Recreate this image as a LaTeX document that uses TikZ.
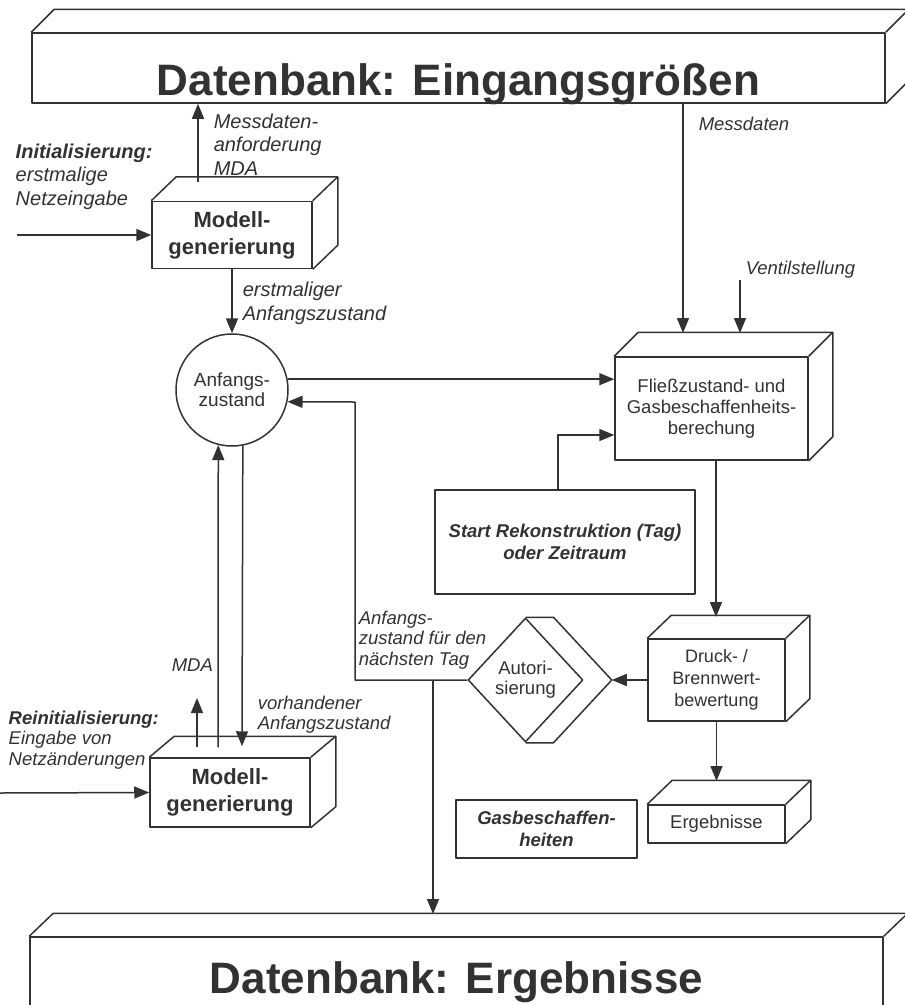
\documentclass[tikz,border=0pt]{standalone}
\usepackage{fontspec}
\setmainfont{Liberation Sans}
\usetikzlibrary{arrows.meta,shapes.geometric}
\definecolor{ink}{RGB}{50,50,50}
% Seitenflaechen eines Quaders an einen Knoten anhaengen
\newcommand{\quader}[3]{%
  \draw (#1.north west) -- ++(#2,#3) -- ([shift={(#2,#3)}]#1.north east)
    -- ([shift={(#2,#3)}]#1.south east) -- (#1.south east);
  \draw (#1.north east) -- ++(#2,#3);}

\begin{document}
\begin{tikzpicture}[x=1pt, y=-1pt, color=ink, line width=1.5pt, line join=round,
    >={Triangle[length=15pt,width=12pt]},
    box/.style={draw, rectangle, inner sep=0pt, align=center},
    txtnormal/.style={font=\fontsize{18.5}{21}\selectfont},
    bolditalic/.style={font=\fontsize{18.5}{22.5}\selectfont\bfseries\itshape},
    modell/.style={box, minimum width=160pt, minimum height=67pt, font=\fontsize{22}{27}\selectfont\bfseries},
    lbl/.style={inner sep=0pt, anchor=north west, align=left, font=\fontsize{18.5}{20.5}\selectfont\itshape},
    biglbl/.style={lbl, font=\fontsize{20}{23.5}\selectfont\itshape},
    dbtitle/.style={anchor=base, inner sep=0pt, font=\fontsize{44}{50}\selectfont\bfseries}
  ]
\useasboundingbox (0,0) rectangle (905,1005);

% Datenbanken
\node[box, minimum width=853pt, minimum height=70pt] (dbin) at (458.5,68) {};
\quader{dbin}{23}{-23}
\node[dbtitle] (dbintitle) at (458.5,95) {Datenbank: Eingangsgrößen};
\node[box, minimum width=853pt, minimum height=90pt] (dbout) at (456.5,982) {};
\quader{dbout}{24}{-23}
\node[dbtitle] (dbouttitle) at (456.5,993) {Datenbank: Ergebnisse};

% Modellgenerierung
\node[modell] (m1) at (232,235) {Modell-\\generierung};
\quader{m1}{25}{-24}
\node[modell, minimum height=69pt] (m2) at (230,792.5) {Modell-\\generierung};
\quader{m2}{25}{-21}

% Anfangszustand
\node[draw, circle, minimum size=112pt, inner sep=0pt, align=center,
  font=\fontsize{19}{20}\selectfont] (az) at (232,390) {Anfangs-\\zustand};

% Berechnung und Bewertung
\node[box, txtnormal, minimum width=193pt, minimum height=103pt] (fl) at (711.5,408.5)
  {Fließzustand- und\\Gasbeschaffenheits-\\berechung};
\quader{fl}{24}{-24}
\node[box, font=\fontsize{18}{22}\selectfont, minimum width=137pt, minimum height=82pt] (dr)
  at (716.5,680) {Druck- /\\Brennwert-\\bewertung};
\quader{dr}{24}{-23}
\node[box, txtnormal, minimum width=137pt, minimum height=38pt] (er) at (716.5,824) {Ergebnisse};
\quader{er}{25}{-24}
\node[box, bolditalic, minimum width=260pt, minimum height=104pt] (st) at (565,542)
  {Start Rekonstruktion (Tag)\\oder Zeitraum};
\node[box, bolditalic, minimum width=181pt, minimum height=58pt] (gas) at (546.5,829)
  {Gasbeschaffen-\\heiten};

% Autorisierung
\node[draw, diamond, inner sep=0pt, minimum width=115pt, minimum height=124pt, align=center,
  font=\fontsize{18.5}{20}\selectfont] (au) at (525.5,680) {Autori-\\sierung};
\draw (au.north) -- ++(28,0) -- ([xshift=28pt]au.east) -- ([xshift=28pt]au.south) -- (au.south);

% Hilfspunkte
\coordinate (in1) at (17,235);
\coordinate (in2) at (0,793);
\coordinate (messin) at (683,333);
\coordinate (ventil) at (740,280);
\coordinate (ventin) at (740,333);
\coordinate (drtop) at (716,617);
\coordinate (ertop) at (716,781);
\coordinate (aub) at ([xshift=28pt]au.east);
\coordinate (ret) at (355,402);
\coordinate (down) at (433,914);
\coordinate (mda) at (197,698);
\coordinate (mdaup) at ([xshift=-34pt,yshift=19pt]m1.north);
\coordinate (stup) at ([xshift=-7pt]st.north);
\coordinate (flin) at ([yshift=-26.5pt]fl.west);
\coordinate (m2a) at ([xshift=-33pt,yshift=10pt]m2.north);
\coordinate (m2b) at ([xshift=-12pt,yshift=10pt]m2.north);
\coordinate (m2c) at ([xshift=12pt,yshift=11pt]m2.north);

% Verbindungen
\draw[->] (mdaup) -- (mdaup |- dbin.south);
\draw[->] (in1) -- (m1.west);
\draw[->] (m1.south) -- (az.north);
\draw[->] (az.11) -- (az.11 -| fl.west);
\draw[->] (messin |- dbin.south) -- (messin);
\draw[->] (ventil) -- (ventin);
\draw[->] (stup) |- (flin);
\draw[->] (drtop |- fl.south) -- (drtop);
\draw[->] (dr.south) -- (dr.south |- ertop);
\draw[->] (dr.west) -- (aub);
\draw[->] (au.west) -| (ret) -- (az.-12.4);
\draw[->] (down |- au.west) -- (down);
\draw[->] (m2a) -- (mda);
\draw[->] (m2b) -- (az.-104.5);
\draw[->] (az.-79.7) -- (m2c);
\draw[->] (in2) -- (m2.west);

% Beschriftungen
\node[biglbl] (lmda) at (213,113) {Messdaten-\\anforderung\\MDA};
\node[biglbl] (linit) at (15,143) {\textbf{Initialisierung:}\\erstmalige\\Netzeingabe};
\node[biglbl, font=\fontsize{20}{24}\selectfont\itshape] (lerst) at (242,281) {erstmaliger\\Anfangszustand};
\node[lbl] (lmess) at (698,116) {Messdaten};
\node[lbl] (lventil) at (745,260) {Ventilstellung};
\node[lbl] (lnext) at (358,610) {Anfangs-\\zustand für den\\nächsten Tag};
\node[lbl] (lmda2) at (171,658) {MDA};
\node[lbl, font=\fontsize{18.5}{20}\selectfont\itshape] (lvorh) at (257,695) {vorhandener\\Anfangszustand};
\node[lbl] (lreinit) at (8,710) {\textbf{Reinitialisierung:}\\Eingabe von\\Netzänderungen};
\end{tikzpicture}
\end{document}
